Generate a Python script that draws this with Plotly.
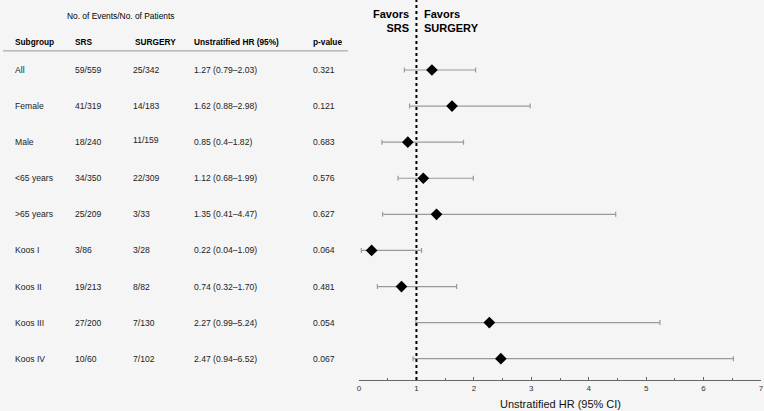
import plotly.graph_objects as go

subgroups = ["All", "Female", "Male", "<65 years", ">65 years", "Koos I", "Koos II", "Koos III", "Koos IV"]
srs = ["59/559", "41/319", "18/240", "34/350", "25/209", "3/86", "19/213", "27/200", "10/60"]
surgery = ["25/342", "14/183", "11/159", "22/309", "3/33", "3/28", "8/82", "7/130", "7/102"]
hr_text = ["1.27 (0.79–2.03)", "1.62 (0.88–2.98)", "0.85 (0.4–1.82)", "1.12 (0.68–1.99)",
           "1.35 (0.41–4.47)", "0.22 (0.04–1.09)", "0.74 (0.32–1.70)", "2.27 (0.99–5.24)",
           "2.47 (0.94–6.52)"]
p_values = ["0.321", "0.121", "0.683", "0.576", "0.627", "0.064", "0.481", "0.054", "0.067"]
hr = [1.27, 1.62, 0.85, 1.12, 1.35, 0.22, 0.74, 2.27, 2.47]
lo = [0.79, 0.88, 0.40, 0.68, 0.41, 0.04, 0.32, 0.99, 0.94]
hi = [2.03, 2.98, 1.82, 1.99, 4.47, 1.09, 1.70, 5.24, 6.52]
headers = ["Subgroup", "SRS", "SURGERY", "Unstratified HR (95%)", "p-value"]

rows = list(range(len(subgroups)))
col_x = [13, 73, 133, 192, 311]
font = "Liberation Sans, Arial, sans-serif"

fig = go.Figure()

# ------ FOREST ------
fig.add_trace(
    go.Scatter(
        x=hr,
        y=rows,
        mode="markers",
        marker=dict(symbol="diamond", size=9, color="black"),
        error_x=dict(
            type="data",
            symmetric=False,
            array=[h - v for h, v in zip(hi, hr)],
            arrayminus=[v - l for v, l in zip(hr, lo)],
            color="#9a9a9a",
            thickness=1.2,
            width=2.5,
        ),
        showlegend=False,
        hoverinfo="skip",
    )
)

# ------ TABLE ------
ann = []
for i, h in enumerate(headers):
    ann.append(dict(x=col_x[i], y=-0.78, text=f"<b>{h}</b>", xref="x2", yref="y",
                    xanchor="left", yanchor="middle", showarrow=False,
                    font=dict(size=8.3, color="black", family=font)))
ann.append(dict(x=65, y=-1.5, text="No. of Events/No. of Patients", xref="x2", yref="y",
                xanchor="left", yanchor="middle", showarrow=False,
                font=dict(size=8.4, color="black", family=font)))
for r in rows:
    vals = [subgroups[r], srs[r], surgery[r], hr_text[r], p_values[r]]
    for i, v in enumerate(vals):
        dy = -0.06 if (i == 2 and subgroups[r] == "Male") else 0
        ann.append(dict(x=col_x[i] if i != 2 else 131, y=r + dy, text=v, xref="x2", yref="y",
                        xanchor="left", yanchor="middle", showarrow=False,
                        font=dict(size=8.6, color="#222", family=font)))

ann.append(dict(x=0.9, y=-1.36, text="<b>Favors<br>SRS</b>", xref="x", yref="y",
                xanchor="right", yanchor="middle", align="right", showarrow=False,
                font=dict(size=11, color="black", family=font)))
ann.append(dict(x=1.1, y=-1.36, text="<b>Favors<br>SURGERY</b>", xref="x", yref="y",
                xanchor="left", yanchor="middle", align="left", showarrow=False,
                font=dict(size=11, color="black", family=font)))
ann.append(dict(x=3.5, y=-0.043, text="Unstratified HR (95% CI)", xref="x", yref="paper",
                xanchor="center", yanchor="top", showarrow=False,
                font=dict(size=11, color="#111", family=font)))

fig.add_shape(type="line", x0=1, x1=1, y0=0, y1=1, xref="x", yref="paper",
              line=dict(color="black", width=2, dash="dot"))
fig.add_shape(type="line", x0=3, x1=348, y0=-0.53, y1=-0.53, xref="x2", yref="y",
              line=dict(color="#999", width=1))

# ------ LAYOUT ------
fig.update_layout(
    width=764,
    height=411,
    margin=dict(l=0, r=3, t=0, b=31, autoexpand=False),
    paper_bgcolor="#f5f5f5",
    plot_bgcolor="#f5f5f5",
    annotations=ann,
    font=dict(family=font),
    xaxis=dict(
        domain=[359 / 761, 1],
        range=[0, 7],
        tickvals=list(range(8)),
        ticks="inside",
        ticklen=3,
        tickcolor="#666",
        minor=dict(tickvals=[0.5, 1.5, 2.5, 3.5, 4.5, 5.5, 6.5], ticks="inside", ticklen=2, tickcolor="#666"),
        showline=True,
        linecolor="#666",
        linewidth=1,
        showgrid=False,
        zeroline=False,
        automargin=False,
        tickfont=dict(size=8, color="#333"),
    ),
    xaxis2=dict(domain=[0, 359 / 761], range=[0, 359], visible=False),
    yaxis=dict(range=[8.59, -1.94], visible=False, automargin=False),
)

fig.write_html("out.html", config={"displayModeBar": False},
               post_script="document.body.style.margin='0';")
